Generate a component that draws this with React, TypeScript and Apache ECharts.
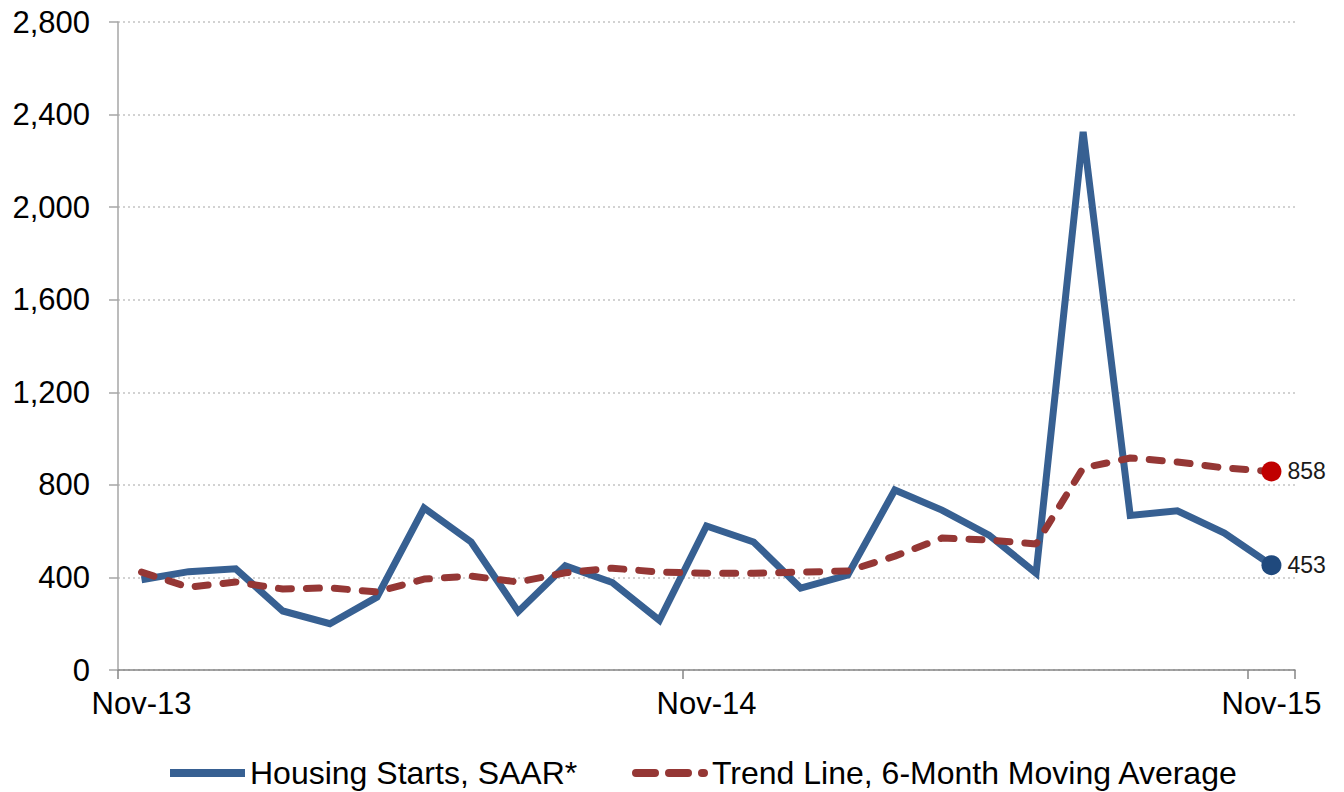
import React, { useEffect, useRef } from "react";
import * as echarts from "echarts";

const months = [
  "Nov-13", "Dec-13", "Jan-14", "Feb-14", "Mar-14", "Apr-14", "May-14", "Jun-14", "Jul-14",
  "Aug-14", "Sep-14", "Oct-14", "Nov-14", "Dec-14", "Jan-15", "Feb-15", "Mar-15", "Apr-15",
  "May-15", "Jun-15", "Jul-15", "Aug-15", "Sep-15", "Oct-15", "Nov-15",
];

const housingStarts = [
  390, 425, 437, 255, 200, 315, 700, 553, 252, 450, 378, 215, 622, 553, 354, 410, 778, 691,
  583, 418, 2325, 668, 688, 592, 453,
];

const trendLine = [
  423, 358, 380, 350, 355, 337, 393, 406, 380, 420, 440, 423, 418, 418, 423, 428, 492, 570,
  562, 544, 873, 916, 899, 873, 858,
];

const yTicks = { min: 0, max: 2800, interval: 400 };

const seriesNames = ["Housing Starts, SAAR*", "Trend Line, 6-Month Moving Average"];

const FONT = "'Liberation Sans', Arial, sans-serif";
const BLUE = "#376092";
const RED = "#953735";

function withEndMarker(values: number[], color: string) {
  return values.map((v, i) =>
    i === values.length - 1
      ? {
          value: v,
          symbol: "circle",
          symbolSize: 20,
          itemStyle: { color },
          label: {
            show: true,
            position: "right",
            distance: 6,
            fontSize: 23,
            fontFamily: FONT,
            color: "#1a1a1a",
          },
        }
      : v
  );
}

export default function App() {
  const ref = useRef<HTMLDivElement>(null);

  useEffect(() => {
    if (!ref.current) return;
    const chart = echarts.init(ref.current, undefined, { renderer: "svg" });
    chart.setOption({
      animation: false,
      backgroundColor: "#ffffff",
      textStyle: { fontFamily: FONT },
      grid: { left: 118, right: 49, top: 22, bottom: 122, containLabel: false },
      legend: { show: false },
      graphic: [
        {
          type: "rect",
          shape: { x: 170, y: 769, width: 75, height: 8 },
          style: { fill: BLUE },
        },
        {
          type: "text",
          x: 250,
          y: 773,
          style: {
            text: seriesNames[0],
            fontSize: 32,
            fontFamily: FONT,
            fill: "#000",
            verticalAlign: "middle",
            align: "left",
          },
        },
        {
          type: "line",
          shape: { x1: 636, y1: 773, x2: 704, y2: 773 },
          style: { stroke: RED, lineWidth: 8, lineCap: "round", lineDash: [19, 14] },
        },
        {
          type: "text",
          x: 712,
          y: 773,
          style: {
            text: seriesNames[1],
            fontSize: 32,
            fontFamily: FONT,
            fill: "#000",
            verticalAlign: "middle",
            align: "left",
          },
        },
      ],
      xAxis: {
        type: "category",
        data: months,
        boundaryGap: true,
        axisLine: { show: true, lineStyle: { color: "#868686", width: 1.5 } },
        axisTick: { show: true, interval: 11, length: 9, lineStyle: { color: "#868686", width: 1.5 } },
        axisLabel: {
          interval: 11,
          margin: 18,
          fontSize: 31,
          fontFamily: FONT,
          color: "#000",
        },
        splitLine: { show: false },
      },
      yAxis: {
        type: "value",
        min: yTicks.min,
        max: yTicks.max,
        interval: yTicks.interval,
        axisLine: { show: true, lineStyle: { color: "#a6a6a6", width: 1.5 } },
        axisTick: { show: true, length: 9, lineStyle: { color: "#a6a6a6", width: 1.5 } },
        axisLabel: {
          margin: 28,
          fontSize: 31,
          fontFamily: FONT,
          color: "#000",
          formatter: (v: number) => v.toLocaleString("en-US"),
        },
        splitLine: { show: true, lineStyle: { color: "#c4c4c4", width: 1.5, type: [2, 3] } },
      },
      series: [
        {
          name: seriesNames[0],
          type: "line",
          data: withEndMarker(housingStarts, "#1f497d"),
          symbol: "none",
          lineStyle: { color: BLUE, width: 7, join: "miter" },
          itemStyle: { color: BLUE },
          z: 3,
        },
        {
          name: seriesNames[1],
          type: "line",
          data: withEndMarker(trendLine, "#c00000"),
          symbol: "none",
          lineStyle: { color: RED, width: 7, type: [13, 15], cap: "round" },
          itemStyle: { color: RED },
          z: 4,
        },
      ],
    });
    return () => chart.dispose();
  }, []);

  return (
    <div
      ref={ref}
      style={{ position: "fixed", left: 0, top: 0, width: 1344, height: 792, background: "#fff" }}
    />
  );
}
